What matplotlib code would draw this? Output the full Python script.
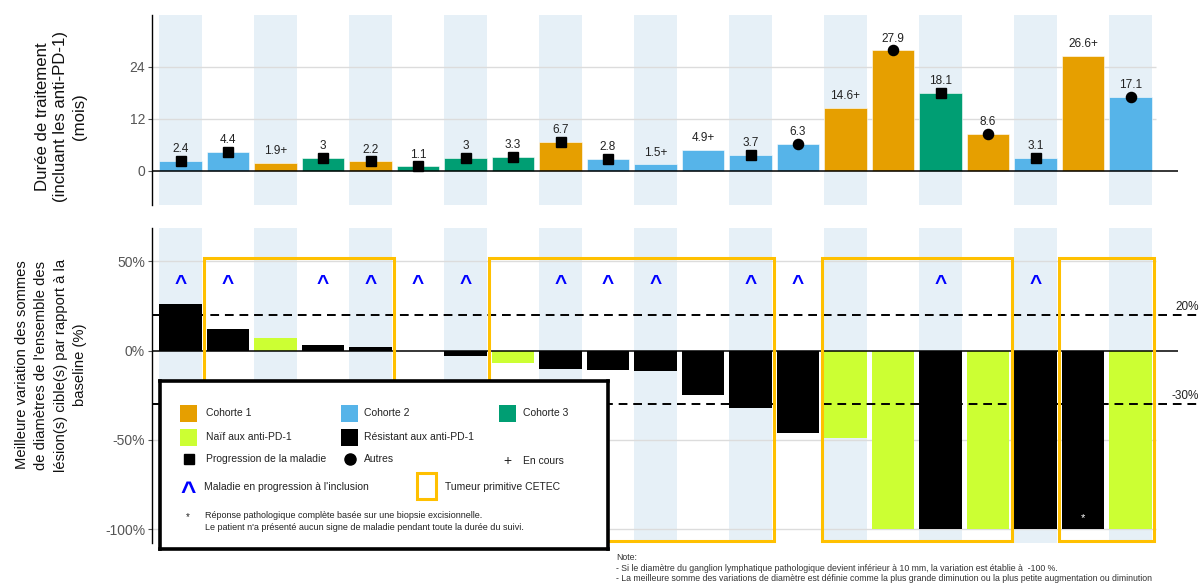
import matplotlib
matplotlib.use("Agg")
import matplotlib.pyplot as plt
from matplotlib.patches import Rectangle

plt.rcParams['font.family'] = ['Liberation Sans', 'DejaVu Sans']

# ---------------- data ----------------
durations = [2.4, 4.4, 1.9, 3, 2.2, 1.1, 3, 3.3, 6.7, 2.8, 1.5, 4.9, 3.7, 6.3,
             14.6, 27.9, 18.1, 8.6, 3.1, 26.6, 17.1]
duration_labels = ["2.4", "4.4", "1.9+", "3", "2.2", "1.1", "3", "3.3", "6.7", "2.8",
                   "1.5+", "4.9+", "3.7", "6.3", "14.6+", "27.9", "18.1", "8.6",
                   "3.1", "26.6+", "17.1"]
cohorts = [2, 2, 1, 3, 1, 3, 3, 3, 1, 2, 2, 2, 2, 2, 1, 1, 3, 1, 2, 1, 2]
end_reason = ["PD", "PD", "ongoing", "PD", "PD", "PD", "PD", "PD", "PD", "PD",
              "ongoing", "ongoing", "PD", "Other", "ongoing", "Other", "PD",
              "Other", "PD", "ongoing", "Other"]
best_change = [26, 12, 7, 3, 2, 0, -3, -7, -10, -11, -11.5, -25, -32, -46, -49,
               -100, -100, -100, -100, -100, -100]
prior_status = ["R", "R", "N", "R", "R", "R", "R", "N", "R", "R", "R", "R", "R",
                "R", "N", "N", "R", "N", "R", "R", "N"]
progression_at_entry = [0, 1, 3, 4, 5, 6, 8, 9, 10, 12, 13, 16, 18]
cetec_groups = [(1, 4), (7, 12), (14, 17), (19, 20)]
pcr_patients = [19]
thresholds = [20, -30]
threshold_labels = ["20%", "-30%"]

cohort_colors = {1: "#E69F00", 2: "#56B4E9", 3: "#009E73"}
status_colors = {"N": "#CCFF33", "R": "#000000"}
band_color = "#E6F0F7"
grid_color = "#DCDCDC"
box_color = "#FFC000"
tick_color = "#555555"

n = len(durations)
x = list(range(n))

W, H = 1200, 585
fig = plt.figure(figsize=(W / 100, H / 100), dpi=100)

def fx(px):
    return px / W

def fy(py):
    return 1 - py / H

ax1 = fig.add_axes([fx(152), fy(205), fx(1178) - fx(152), fy(15) - fy(205)])
ax2 = fig.add_axes([fx(152), fy(543), fx(1178) - fx(152), fy(228) - fy(543)])

xl = (-0.6, 21.0)
grid_end = 20.53

for ax in (ax1, ax2):
    ax.set_xlim(*xl)
    for s in ("top", "right", "bottom"):
        ax.spines[s].set_visible(False)
    ax.spines["left"].set_color("black")
    ax.spines["left"].set_linewidth(1.0)
    ax.set_xticks([])
    ax.tick_params(axis="y", length=3, color=tick_color, labelcolor=tick_color,
                   labelsize=10, pad=2)
    for i in x:
        if i % 2 == 0:
            ax.axvspan(i - 0.46, i + 0.46, color=band_color, zorder=0, lw=0)

# ---------- top panel ----------
ax1.set_ylim(-7.85, 36.0)
ax1.set_yticks([0, 12, 24])
ax1.set_yticklabels(["0", "12", "24"])
for g in (12, 24):
    ax1.hlines(g, xl[0], grid_end, color=grid_color, lw=1, zorder=1)
ax1.axhline(0, color="black", lw=1.1, zorder=3)
ax1.bar(x, durations, width=0.9, color=[cohort_colors[c] for c in cohorts],
        edgecolor="white", linewidth=0.4, zorder=2)
for i in x:
    if end_reason[i] == "PD":
        ax1.plot(i, durations[i], marker="s", color="black", ms=6.8, zorder=4)
    elif end_reason[i] == "Other":
        ax1.plot(i, durations[i], marker="o", color="black", ms=7.3, zorder=4)
    ax1.annotate(duration_labels[i], (i, durations[i]), xytext=(0, 8.3),
                 textcoords="offset points", ha="center", va="center",
                 fontsize=8.5, color="#222222")

# ---------- bottom panel ----------
ax2.set_ylim(-107.7, 68.7)
ax2.set_yticks([50, 0, -50, -100])
ax2.set_yticklabels(["50%", "0%", "-50%", "-100%"])
for g in (50, -50, -100):
    ax2.hlines(g, xl[0], grid_end, color=grid_color, lw=1, zorder=1)
ax2.bar(x, best_change, width=0.9, color=[status_colors[s] for s in prior_status],
        edgecolor="none", zorder=2)
ax2.axhline(0, color="black", lw=1.1, zorder=3)
for t in thresholds:
    ax2.plot([xl[0], 21.47], [t, t], color="black", lw=1.4, ls=(0, (4.5, 3)),
             zorder=4, clip_on=False)
for t, lab in zip(thresholds, threshold_labels):
    py = 350.7 - t * 1.786
    fig.text(fx(1199), fy(py - 8), lab, ha="right", va="center", fontsize=8.5,
             color="#222222")
for i in progression_at_entry:
    ax2.text(i, 37.5, "^", ha="center", va="center", fontsize=15,
             fontweight="bold", color="#0000FF", zorder=5)
for i in pcr_patients:
    ax2.text(i, -94, "*", ha="center", va="center", fontsize=8, color="white",
             zorder=5)
for a, b in cetec_groups:
    ax2.add_patch(Rectangle((a - 0.5, -106.4), b - a + 1, 158.5, fill=False,
                            edgecolor=box_color, lw=2.2, zorder=5, clip_on=False))

# ---------- axis titles ----------
fig.text(fx(61), fy(117), "Durée de traitement\n(incluant les anti-PD-1)\n(mois)",
         rotation=90, ha="center", va="center", multialignment="center",
         fontsize=12.1, color="#111111", linespacing=1.3)
fig.text(fx(51), fy(365),
         "Meilleure variation des sommes\nde diamètres de l'ensemble des\n"
         "lésion(s) cible(s) par rapport à la\nbaseline (%)",
         rotation=90, ha="center", va="center", multialignment="center",
         fontsize=10.65, color="#111111", linespacing=1.5)

# ---------- legend ----------
lax = fig.add_axes([fx(160), fy(549), fx(608) - fx(160), fy(381) - fy(549)])
lax.set_xlim(160, 608)
lax.set_ylim(549, 381)
lax.set_xticks([])
lax.set_yticks([])
lax.set_facecolor("white")
for s in lax.spines.values():
    s.set_linewidth(2.6)
    s.set_color("black")

lfs = 7.5
tcol = "#222222"

def sq(cx, cy, col):
    lax.add_patch(Rectangle((cx - 8.5, cy - 8.5), 17, 17, color=col, lw=0))

r1, r2, r3, r4 = 413, 437, 459, 487
sq(188.5, r1, cohort_colors[1]); lax.text(206, r1, "Cohorte 1", va="center", fontsize=lfs, color=tcol)
sq(349, r1, cohort_colors[2]); lax.text(364, r1, "Cohorte 2", va="center", fontsize=lfs, color=tcol)
sq(507.5, r1, cohort_colors[3]); lax.text(523, r1, "Cohorte 3", va="center", fontsize=lfs, color=tcol)
sq(188.5, r2, status_colors["N"]); lax.text(206, r2, "Naïf aux anti-PD-1", va="center", fontsize=lfs, color=tcol)
sq(349, r2, status_colors["R"]); lax.text(364, r2, "Résistant aux anti-PD-1", va="center", fontsize=lfs, color=tcol)
lax.plot(188.5, r3, marker="s", color="black", ms=7.5)
lax.text(206, r3, "Progression de la maladie", va="center", fontsize=lfs, color=tcol)
lax.plot(350, r3, marker="o", color="black", ms=8)
lax.text(364, r3, "Autres", va="center", fontsize=lfs, color=tcol)
lax.text(507, r3 + 2, "+", ha="center", va="center", fontsize=10, color=tcol)
lax.text(523, r3 + 2, "En cours", va="center", fontsize=lfs, color=tcol)
lax.text(188, r4 + 6, "^", ha="center", va="center", fontsize=19,
         fontweight="bold", color="#0000FF")
lax.text(204, r4, "Maladie en progression à l'inclusion", va="center", fontsize=lfs, color=tcol)
lax.add_patch(Rectangle((417, 473), 19, 26, fill=False, edgecolor=box_color, lw=2.2))
lax.text(445, r4, "Tumeur primitive CETEC", va="center", fontsize=lfs, color=tcol)
lax.text(188, 517, "*", ha="center", va="center", fontsize=7, color=tcol)
lax.text(205, 516, "Réponse pathologique complète basée sur une biopsie excisionnelle.",
         va="center", fontsize=6.5, color=tcol)
lax.text(205, 527, "Le patient n'a présenté aucun signe de maladie pendant toute la durée du suivi.",
         va="center", fontsize=6.5, color=tcol)

# ---------- notes ----------
ncol = "#333333"
fig.text(fx(616), fy(558), "Note:", va="center", fontsize=6.3, color=ncol)
fig.text(fx(616), fy(568.5),
         "- Si le diamètre du ganglion lymphatique pathologique devient inférieur à 10 mm, la variation est établie à  -100 %.",
         va="center", fontsize=6.3, color=ncol)
fig.text(fx(616), fy(578.5),
         "- La meilleure somme des variations de diamètre est définie comme la plus grande diminution ou la plus petite augmentation ou diminution",
         va="center", fontsize=6.3, color=ncol)

fig.savefig("out.png", dpi=100)
